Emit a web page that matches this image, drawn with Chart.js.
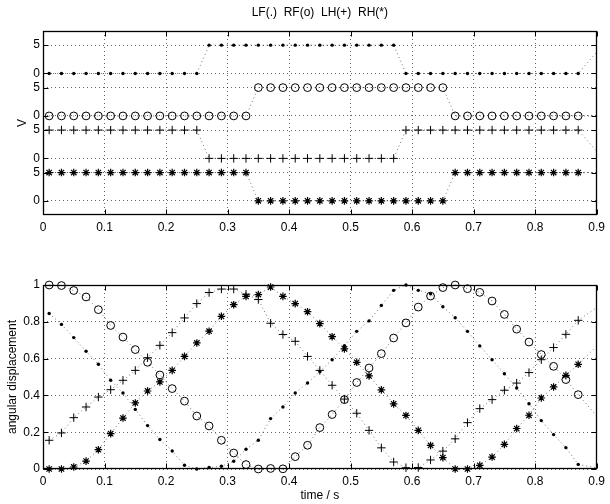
<!DOCTYPE html>
<html>
<head>
<meta charset="utf-8">
<script src="https://cdn.jsdelivr.net/npm/chart.js@4.4.0/dist/chart.umd.min.js"></script>
<style>
html,body{margin:0;padding:0;background:#fff;}
#wrap{position:relative;width:610px;height:504px;overflow:hidden;}
canvas{position:absolute;left:0;}
</style>
</head>
<body>
<div id="wrap">
<canvas id="topChart" width="610" height="252" style="top:0px"></canvas>
<canvas id="botChart" width="610" height="252" style="top:252px"></canvas>
</div>
<script>
// ---------- data ----------
const time = [0.01,0.03,0.05,0.07,0.09,0.11,0.13,0.15,0.17,0.19,0.21,0.23,0.25,0.27,0.29,0.31,0.33,0.35,0.37,0.39,0.41,0.43,0.45,0.47,0.49,0.51,0.53,0.55,0.57,0.59,0.61,0.63,0.65,0.67,0.69,0.71,0.73,0.75,0.77,0.79,0.81,0.83,0.85,0.87,0.91];

// footfall signals (V), 0 or 5
const lfState = [0,0,0,0,0,0,0,0,0,0,0,0,0, 5,5,5,5,5,5,5,5,5,5,5,5,5,5,5,5, 0,0,0,0,0,0,0,0,0,0,0,0,0,0,0, 5];
const rfState = [0,0,0,0,0,0,0,0,0,0,0,0,0,0,0,0,0, 5,5,5,5,5,5,5,5,5,5,5,5,5,5,5,5, 0,0,0,0,0,0,0,0,0,0,0, 0];
const lhState = [5,5,5,5,5,5,5,5,5,5,5,5,5, 0,0,0,0,0,0,0,0,0,0,0,0,0,0,0,0, 5,5,5,5,5,5,5,5,5,5,5,5,5,5,5, 0];
const rhState = [5,5,5,5,5,5,5,5,5,5,5,5,5,5,5,5,5, 0,0,0,0,0,0,0,0,0,0,0,0,0,0,0,0, 5,5,5,5,5,5,5,5,5,5,5, 5];
const stateOffsets = {LF:22.5, RF:15, LH:7.5, RH:0};

// angular displacement
const lfAngle = [0.845,0.786,0.714,0.640,0.569,0.482,0.413,0.324,0.236,0.160,0.098,0.020,0.000,0.008,0.015,0.042,0.107,0.156,0.274,0.337,0.413,0.467,0.530,0.594,0.670,0.748,0.805,0.889,0.971,1.000,0.971,0.952,0.882,0.822,0.748,0.669,0.594,0.518,0.440,0.355,0.263,0.187,0.116,0.025,0.000];
const rfAngle = [1.000,0.997,0.970,0.935,0.866,0.780,0.717,0.649,0.580,0.511,0.437,0.369,0.288,0.234,0.156,0.087,0.024,0.000,0.003,0.001,0.067,0.129,0.225,0.296,0.377,0.470,0.549,0.627,0.712,0.794,0.880,0.940,0.986,1.000,0.980,0.960,0.913,0.840,0.760,0.690,0.622,0.558,0.486,0.404,0.250];
const lhAngle = [0.156,0.196,0.279,0.337,0.391,0.431,0.482,0.536,0.605,0.672,0.741,0.821,0.899,0.959,0.978,0.978,0.950,0.921,0.792,0.731,0.694,0.612,0.536,0.455,0.380,0.303,0.210,0.115,0.038,0.007,0.008,0.049,0.097,0.164,0.252,0.328,0.377,0.428,0.467,0.524,0.594,0.660,0.732,0.808,0.900];
const rhAngle = [0.000,0.000,0.011,0.043,0.105,0.192,0.277,0.359,0.424,0.473,0.536,0.612,0.685,0.749,0.830,0.893,0.938,0.948,0.989,0.938,0.899,0.855,0.790,0.719,0.653,0.580,0.506,0.430,0.354,0.291,0.210,0.128,0.062,0.000,0.000,0.020,0.065,0.134,0.220,0.292,0.386,0.446,0.509,0.569,0.700];

// ticks
const timeTicks = [0,0.1,0.2,0.3,0.4,0.5,0.6,0.7,0.8,0.9];
const timeTickLabels = ['0','0.1','0.2','0.3','0.4','0.5','0.6','0.7','0.8','0.9'];
const topTickValues = [0,5,7.5,12.5,15,20,22.5,27.5];
const topTickLabels = ['0','5','0','5','0','5','0','5'];
const botTickValues = [0,0.2,0.4,0.6,0.8,1];
const botTickLabels = ['0','0.2','0.4','0.6','0.8','1'];

const titleText = 'LF(.)  RF(o)  LH(+)  RH(*)';
const topYTitle = 'V';
const botYTitle = 'angular displacement';
const botXTitle = 'time / s';

// ---------- styling ----------
const FONT_FAMILY = '"Liberation Sans", Arial, Helvetica, sans-serif';
const FONT = {family: FONT_FAMILY, size: 12};
Chart.defaults.font.family = FONT_FAMILY;
Chart.defaults.font.size = 12;
Chart.defaults.color = '#000';

const markerStyles = {
  LF: {pointStyle:'circle', pointRadius:1.7, pointBackgroundColor:'#000', pointBorderColor:'#000', pointBorderWidth:0},
  RF: {pointStyle:'circle', pointRadius:3.9, pointBackgroundColor:'rgba(0,0,0,0)', pointBorderColor:'#000', pointBorderWidth:1},
  LH: {pointStyle:'cross', pointRadius:4.2, pointBackgroundColor:'#000', pointBorderColor:'#000', pointBorderWidth:1},
  RH: {pointStyle:'star', pointRadius:3.8, pointBackgroundColor:'#000', pointBorderColor:'#000', pointBorderWidth:1.2}
};

function makeDataset(name, values, offset) {
  return Object.assign({
    label: name,
    data: time.map((t, i) => ({x: t, y: values[i] + offset})),
    showLine: true,
    borderColor: 'rgba(0,0,0,0.55)',
    borderWidth: 1,
    borderDash: [1, 3],
    tension: 0,
    fill: false,
    clip: {left: false, top: false, right: 0, bottom: false}
  }, markerStyles[name]);
}

// draws the MATLAB-style box with inward tick marks
const framePlugin = {
  id: 'frame',
  beforeDatasetsDraw(chart) {
    const {ctx, chartArea: a, scales} = chart;
    ctx.save();
    ctx.strokeStyle = '#000';
    ctx.lineWidth = 1;
    const L = Math.round(a.left) + 0.5, R = Math.round(a.right) - 0.5;
    const T = Math.round(a.top) + 0.5, B = Math.round(a.bottom) - 0.5;
    ctx.beginPath();
    const tl = 5;
    scales.x.ticks.forEach(t => {
      const px = Math.round(scales.x.getPixelForValue(t.value)) + 0.5;
      ctx.moveTo(px, B); ctx.lineTo(px, B - tl);
      ctx.moveTo(px, T); ctx.lineTo(px, T + tl);
    });
    scales.y.ticks.forEach(t => {
      const py = Math.round(scales.y.getPixelForValue(t.value)) + 0.5;
      ctx.moveTo(L, py); ctx.lineTo(L + tl, py);
      ctx.moveTo(R, py); ctx.lineTo(R - tl, py);
    });
    ctx.stroke();
    ctx.lineWidth = 1.3;
    ctx.strokeRect(L, T, R - L, B - T);
    ctx.restore();
  }
};

const titlePlugin = {
  id: 'plotTitle',
  afterDraw(chart, args, opts) {
    if (!opts || !opts.text) return;
    const {ctx, chartArea: a} = chart;
    ctx.save();
    ctx.font = '12px ' + FONT_FAMILY;
    ctx.fillStyle = '#000';
    ctx.textAlign = 'center';
    ctx.textBaseline = 'middle';
    ctx.fillText(opts.text, (a.left + a.right) / 2, opts.y);
    ctx.restore();
  }
};

function xScale(height, titleCfg) {
  return {
    type: 'linear', min: 0, max: 0.9,
    afterBuildTicks: s => { s.ticks = timeTicks.map(v => ({value: v})); },
    ticks: {callback: (v, i) => timeTickLabels[i], padding: 5, maxRotation: 0, autoSkip: false, color: '#000', font: FONT},
    grid: {color: 'rgba(0,0,0,0.6)', lineWidth: 1, drawTicks: false},
    border: {display: false, dash: [1, 3]},
    title: titleCfg,
    afterFit: s => { s.height = height; }
  };
}

function yScale(min, max, vals, labels, titleCfg) {
  return {
    type: 'linear', min: min, max: max,
    afterBuildTicks: s => { s.ticks = vals.map(v => ({value: v})); },
    ticks: {callback: (v, i) => labels[i], padding: 3, autoSkip: false, color: '#000', font: FONT},
    grid: {color: 'rgba(0,0,0,0.6)', lineWidth: 1, drawTicks: false},
    border: {display: false, dash: [1, 3]},
    title: titleCfg,
    afterFit: s => { s.width = 43; }
  };
}

const common = {
  responsive: false,
  animation: false,
  events: [],
  plugins: {legend: {display: false}, tooltip: {enabled: false}}
};

new Chart(document.getElementById('topChart'), {
  type: 'scatter',
  data: {datasets: [
    makeDataset('LF', lfState, stateOffsets.LF),
    makeDataset('RF', rfState, stateOffsets.RF),
    makeDataset('LH', lhState, stateOffsets.LH),
    makeDataset('RH', rhState, stateOffsets.RH)
  ]},
  options: Object.assign({}, common, {
    layout: {padding: {top: 31, right: 12, left: 0, bottom: 0}},
    plugins: Object.assign({}, common.plugins, {plotTitle: {text: titleText, y: 13}}),
    scales: {
      x: xScale(37, {display: false}),
      y: yScale(-2.5, 30, topTickValues, topTickLabels, {display: true, text: topYTitle, color: '#000', font: FONT, padding: {top: 15, bottom: 0}})
    }
  }),
  plugins: [framePlugin, titlePlugin]
});

new Chart(document.getElementById('botChart'), {
  type: 'scatter',
  data: {datasets: [
    makeDataset('LF', lfAngle, 0),
    makeDataset('RF', rfAngle, 0),
    makeDataset('LH', lhAngle, 0),
    makeDataset('RH', rhAngle, 0)
  ]},
  options: Object.assign({}, common, {
    layout: {padding: {top: 33, right: 12, left: 0, bottom: 0}},
    scales: {
      x: xScale(35, {display: true, text: botXTitle, color: '#000', font: FONT, padding: {top: 0, bottom: 1}}),
      y: yScale(0, 1, botTickValues, botTickLabels, {display: true, text: botYTitle, color: '#000', font: FONT, padding: {top: 5, bottom: 0}})
    }
  }),
  plugins: [framePlugin]
});
</script>
</body>
</html>
